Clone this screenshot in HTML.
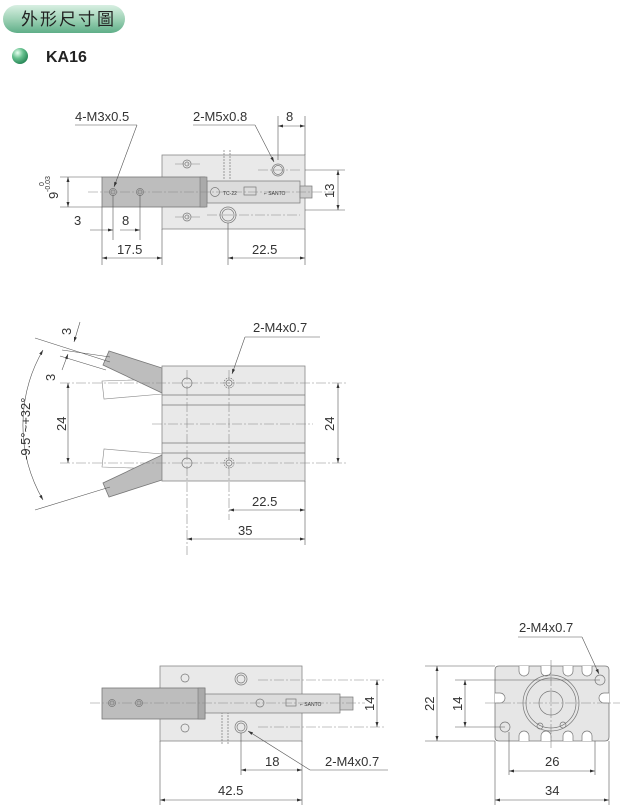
<!DOCTYPE html>
<html><head><meta charset="utf-8"><style>
body{margin:0;background:#fff}
svg{display:block}
text{font-family:"Liberation Sans","Noto Sans CJK TC",sans-serif;fill:#333;font-size:13px}
.t{font-size:13px}
.l{stroke:#555;stroke-width:0.6;fill:none}
.c{stroke:#888;stroke-width:0.6;fill:none;stroke-dasharray:10 2 2 2}
.b{stroke:#888;stroke-width:0.8;fill:#e9e9e9}
.g{stroke:#777;stroke-width:0.8;fill:#bdbdbd}
.h{stroke:#777;stroke-width:0.7;fill:none}
</style></head><body>
<svg width="620" height="805" viewBox="0 0 620 805" xmlns="http://www.w3.org/2000/svg">
<defs>
<linearGradient id="pg" x1="0" y1="0" x2="0" y2="1"><stop offset="0" stop-color="#d8efe2"/><stop offset="0.5" stop-color="#9fd2b6"/><stop offset="1" stop-color="#5fae88"/></linearGradient>
<radialGradient id="ball" cx="0.35" cy="0.3" r="0.7"><stop offset="0" stop-color="#e8fff0"/><stop offset="0.5" stop-color="#66c08e"/><stop offset="1" stop-color="#2b8a5a"/></radialGradient>
<marker id="a" viewBox="0 0 10 6" refX="10" refY="3" markerWidth="9" markerHeight="5" orient="auto-start-reverse"><path d="M0,0L10,3L0,6z" fill="#333"/></marker>
</defs>
<!-- header -->
<rect x="3" y="5" width="122" height="28" rx="14" fill="url(#pg)"/>
<text x="21" y="25" style="font-size:17px;fill:#222;letter-spacing:2px">外形尺寸圖</text>
<circle cx="20" cy="56" r="8" fill="url(#ball)"/>
<text x="46" y="62" style="font-size:16px;font-weight:bold;fill:#222">KA16</text>

<!-- VIEW 1 -->
<rect class="b" x="162" y="155" width="143" height="74"/>
<line class="h" x1="224" y1="150" x2="224" y2="180" stroke-dasharray="2 1"/>
<line class="h" x1="230" y1="150" x2="230" y2="180" stroke-dasharray="2 1"/>
<rect x="207" y="181" width="93" height="22" fill="#dcdcdc" stroke="#777" stroke-width="0.7"/>
<rect x="300" y="186" width="12" height="12" fill="#ccc" stroke="#777" stroke-width="0.7"/>
<rect class="g" x="102" y="177" width="103" height="30"/>
<rect x="200" y="177" width="7" height="30" fill="#aaa" stroke="#777" stroke-width="0.6"/>
<circle class="h" cx="215" cy="192" r="4.5"/><text x="223" y="195" style="font-size:5px">TC-22</text>
<rect class="h" x="244" y="187" width="12" height="8"/><text x="264" y="195" style="font-size:5px">⌐ SANTO</text>
<circle class="h" cx="113" cy="192" r="3.5"/><circle class="h" cx="113" cy="192" r="2"/>
<circle class="h" cx="140" cy="192" r="3.5"/><circle class="h" cx="140" cy="192" r="2"/>
<circle class="h" cx="187" cy="164" r="4"/><circle class="h" cx="187" cy="164" r="2"/>
<circle class="h" cx="187" cy="217" r="4"/><circle class="h" cx="187" cy="217" r="2"/>
<circle class="h" cx="278" cy="170" r="6"/><circle class="h" cx="278" cy="170" r="4.5"/>
<circle class="h" cx="228" cy="215" r="8"/><circle class="h" cx="228" cy="215" r="6"/>
<line class="c" x1="88" y1="192" x2="335" y2="192"/>
<line class="c" x1="258" y1="170" x2="300" y2="170"/>
<line class="c" x1="175" y1="164" x2="200" y2="164"/><line class="c" x1="175" y1="217" x2="200" y2="217"/>
<line class="c" x1="207" y1="215" x2="300" y2="215"/>
<text x="75" y="121">4-M3x0.5</text><line class="l" x1="75" y1="125" x2="137" y2="125"/>
<line class="l" x1="137" y1="125" x2="114" y2="187" marker-end="url(#a)"/>
<text x="193" y="121">2-M5x0.8</text><line class="l" x1="193" y1="125" x2="255" y2="125"/>
<line class="l" x1="255" y1="125" x2="274" y2="162" marker-end="url(#a)"/>
<text x="286" y="121">8</text>
<line class="l" x1="278" y1="116" x2="278" y2="160"/><line class="l" x1="305" y1="116" x2="305" y2="155"/>
<line class="l" x1="278" y1="126" x2="305" y2="126" marker-start="url(#a)" marker-end="url(#a)"/>
<line class="l" x1="305" y1="170" x2="345" y2="170"/><line class="l" x1="305" y1="210" x2="345" y2="210"/>
<line class="l" x1="338" y1="170" x2="338" y2="210" marker-start="url(#a)" marker-end="url(#a)"/>
<text transform="translate(334,198) rotate(-90)">13</text>
<line class="l" x1="60" y1="177" x2="102" y2="177"/><line class="l" x1="60" y1="207" x2="102" y2="207"/>
<line class="l" x1="68" y1="177" x2="68" y2="207" marker-start="url(#a)" marker-end="url(#a)"/>
<text transform="translate(58,199) rotate(-90)">9</text>
<text transform="translate(44,186) rotate(-90)" style="font-size:7px">0</text>
<text transform="translate(50,192) rotate(-90)" style="font-size:7px">-0.03</text>
<text x="74" y="225">3</text><text x="122" y="225">8</text>
<line class="l" x1="113" y1="195" x2="113" y2="240"/><line class="l" x1="140" y1="195" x2="140" y2="240"/>
<line class="l" x1="90" y1="230" x2="113" y2="230" marker-end="url(#a)"/>
<line class="l" x1="120" y1="230" x2="140" y2="230" marker-end="url(#a)"/>
<text x="117" y="254">17.5</text><text x="252" y="254">22.5</text>
<line class="l" x1="102" y1="207" x2="102" y2="265"/><line class="l" x1="162" y1="229" x2="162" y2="265"/>
<line class="l" x1="228" y1="223" x2="228" y2="265"/><line class="l" x1="305" y1="229" x2="305" y2="265"/>
<line class="l" x1="102" y1="258" x2="162" y2="258" marker-start="url(#a)" marker-end="url(#a)"/>
<line class="l" x1="228" y1="258" x2="305" y2="258" marker-start="url(#a)" marker-end="url(#a)"/>

<!-- VIEW 2 -->
<polygon points="102,381 104,399 162,394 162,379" fill="#fff" stroke="#888" stroke-width="0.6"/>
<polygon points="102,467 104,449 162,454 162,469" fill="#fff" stroke="#888" stroke-width="0.6"/>
<polygon class="g" points="103,365 109,351 162,368 162,393"/>
<polygon class="g" points="103,483 109,497 162,480 162,455"/>
<rect class="b" x="162" y="366" width="143" height="115"/>
<line class="h" x1="162" y1="395" x2="305" y2="395"/><line class="h" x1="162" y1="405" x2="305" y2="405"/>
<line class="h" x1="162" y1="443" x2="305" y2="443"/><line class="h" x1="162" y1="453" x2="305" y2="453"/>
<line class="c" x1="152" y1="424" x2="313" y2="424"/>
<line class="c" x1="60" y1="383" x2="348" y2="383"/><line class="c" x1="60" y1="463" x2="348" y2="463"/>
<line class="c" x1="187" y1="370" x2="187" y2="555"/><line class="c" x1="229" y1="370" x2="229" y2="520"/>
<circle class="h" cx="187" cy="383" r="5"/><circle class="h" cx="229" cy="383" r="5" stroke-dasharray="1.5 1"/><circle class="h" cx="229" cy="383" r="3"/>
<circle class="h" cx="187" cy="463" r="5"/><circle class="h" cx="229" cy="463" r="5" stroke-dasharray="1.5 1"/><circle class="h" cx="229" cy="463" r="3"/>
<line class="l" x1="35" y1="338" x2="110" y2="362"/><line class="l" x1="35" y1="510" x2="110" y2="487"/>
<line class="l" x1="62" y1="350" x2="110" y2="357"/><line class="l" x1="60" y1="356" x2="106" y2="370"/>
<path class="l" d="M43,350 A150,150 0 0 0 43,500" marker-start="url(#a)" marker-end="url(#a)"/>
<text transform="translate(30,460) rotate(-90)">-9.5°~+32°</text>
<line class="l" x1="80" y1="322" x2="74" y2="342" marker-end="url(#a)"/>
<line class="l" x1="62" y1="370" x2="68" y2="354" marker-end="url(#a)"/>
<text transform="translate(71,335) rotate(-90)">3</text>
<text transform="translate(55,381) rotate(-90)">3</text>
<line class="l" x1="68" y1="383" x2="68" y2="463" marker-start="url(#a)" marker-end="url(#a)"/>
<text transform="translate(66,431) rotate(-90)">24</text>
<line class="l" x1="338" y1="383" x2="338" y2="463" marker-start="url(#a)" marker-end="url(#a)"/>
<text transform="translate(334,431) rotate(-90)">24</text>
<text x="253" y="332">2-M4x0.7</text><line class="l" x1="245" y1="337" x2="320" y2="337"/>
<line class="l" x1="245" y1="337" x2="232" y2="374" marker-end="url(#a)"/>
<line class="l" x1="305" y1="481" x2="305" y2="545"/>
<text x="252" y="506">22.5</text><text x="238" y="535">35</text>
<line class="l" x1="229" y1="510" x2="305" y2="510" marker-start="url(#a)" marker-end="url(#a)"/>
<line class="l" x1="187" y1="539" x2="305" y2="539" marker-start="url(#a)" marker-end="url(#a)"/>

<!-- VIEW 3 -->
<rect class="b" x="160" y="666" width="142" height="75"/>
<line class="h" x1="222" y1="712" x2="222" y="0" y2="745" stroke-dasharray="2 1"/>
<line class="h" x1="228" y1="712" x2="228" y2="745" stroke-dasharray="2 1"/>
<rect x="205" y="694" width="135" height="19" fill="#dcdcdc" stroke="#777" stroke-width="0.7"/>
<rect x="340" y="697" width="13" height="13" fill="#ccc" stroke="#777" stroke-width="0.7"/>
<rect class="g" x="102" y="688" width="103" height="31"/>
<rect x="198" y="688" width="7" height="31" fill="#aaa" stroke="#777" stroke-width="0.6"/>
<circle class="h" cx="260" cy="703" r="4"/><rect class="h" x="286" y="699" width="10" height="7"/><text x="300" y="706" style="font-size:5px">⌐ SANTO</text>
<circle class="h" cx="112" cy="703" r="3.5"/><circle class="h" cx="112" cy="703" r="2"/>
<circle class="h" cx="139" cy="703" r="3.5"/><circle class="h" cx="139" cy="703" r="2"/>
<circle class="h" cx="185" cy="678" r="4"/><circle class="h" cx="185" cy="728" r="4"/>
<circle class="h" cx="241" cy="679" r="6"/><circle class="h" cx="241" cy="679" r="4"/>
<circle class="h" cx="241" cy="727" r="6"/><circle class="h" cx="241" cy="727" r="4"/>
<line class="c" x1="90" y1="703" x2="365" y2="703"/>
<line class="c" x1="258" y1="680" x2="385" y2="680"/><line class="c" x1="258" y1="727" x2="385" y2="727"/>
<line class="l" x1="377" y1="680" x2="377" y2="727" marker-start="url(#a)" marker-end="url(#a)"/>
<text transform="translate(374,711) rotate(-90)">14</text>
<line class="l" x1="160" y1="741" x2="160" y2="805"/><line class="l" x1="302" y1="741" x2="302" y2="805"/>
<line class="l" x1="241" y1="733" x2="241" y2="775"/>
<text x="265" y="766">18</text><text x="218" y="795">42.5</text>
<line class="l" x1="241" y1="770" x2="302" y2="770" marker-start="url(#a)" marker-end="url(#a)"/>
<line class="l" x1="160" y1="800" x2="302" y2="800" marker-start="url(#a)" marker-end="url(#a)"/>
<text x="325" y="766">2-M4x0.7</text><line class="l" x1="310" y1="770" x2="388" y2="770"/>
<line class="l" x1="310" y1="770" x2="248" y2="731" marker-end="url(#a)"/>

<!-- END VIEW -->
<path d="M499,666 H605 Q609,666 609,670 V737 Q609,741 605,741 H499 Q495,741 495,737 V670 Q495,666 499,666 Z" fill="#e6e6e6" stroke="#777" stroke-width="0.8"/>
<g fill="#fff" stroke="#777" stroke-width="0.7">
<path d="M519,666 v5 a5,5 0 0 0 10,0 v-5"/><path d="M541,666 v5 a5,5 0 0 0 10,0 v-5"/><path d="M563,666 v5 a5,5 0 0 0 10,0 v-5"/><path d="M582,666 v5 a5,5 0 0 0 10,0 v-5"/>
<path d="M519,741 v-5 a5,5 0 0 1 10,0 v5"/><path d="M541,741 v-5 a5,5 0 0 1 10,0 v5"/><path d="M563,741 v-5 a5,5 0 0 1 10,0 v5"/><path d="M582,741 v-5 a5,5 0 0 1 10,0 v5"/>
<path d="M495,693 h5 a5,5 0 0 1 0,10 h-5"/><path d="M609,693 h-5 a5,5 0 0 0 0,10 h5"/>
</g>
<circle class="h" cx="551" cy="703" r="28"/><circle class="h" cx="551" cy="703" r="25"/><circle class="h" cx="551" cy="703" r="12"/>
<circle class="h" cx="600" cy="680" r="5"/><circle class="h" cx="505" cy="727" r="5"/>
<circle class="h" cx="540" cy="726" r="3"/><circle class="h" cx="563" cy="725" r="3"/>
<line class="c" x1="485" y1="703" x2="620" y2="703"/><line class="c" x1="551" y1="660" x2="551" y2="748"/>
<line class="l" x1="425" y1="666" x2="495" y2="666"/><line class="l" x1="425" y1="741" x2="495" y2="741"/>
<line class="l" x1="455" y1="680" x2="600" y2="680"/><line class="l" x1="455" y1="727" x2="505" y2="727"/>
<line class="l" x1="437" y1="666" x2="437" y2="741" marker-start="url(#a)" marker-end="url(#a)"/>
<line class="l" x1="465" y1="680" x2="465" y2="727" marker-start="url(#a)" marker-end="url(#a)"/>
<text transform="translate(434,711) rotate(-90)">22</text>
<text transform="translate(462,711) rotate(-90)">14</text>
<line class="l" x1="495" y1="741" x2="495" y2="805"/><line class="l" x1="609" y1="741" x2="609" y2="805"/>
<line class="l" x1="509" y1="732" x2="509" y2="775"/><line class="l" x1="595" y1="741" x2="595" y2="775"/>
<text x="545" y="766">26</text><text x="545" y="795">34</text>
<line class="l" x1="509" y1="771" x2="595" y2="771" marker-start="url(#a)" marker-end="url(#a)"/>
<line class="l" x1="495" y1="800" x2="609" y2="800" marker-start="url(#a)" marker-end="url(#a)"/>
<text x="519" y="632">2-M4x0.7</text><line class="l" x1="518" y1="637" x2="582" y2="637"/>
<line class="l" x1="582" y1="637" x2="599" y2="674" marker-end="url(#a)"/>
</svg>
</body></html>
